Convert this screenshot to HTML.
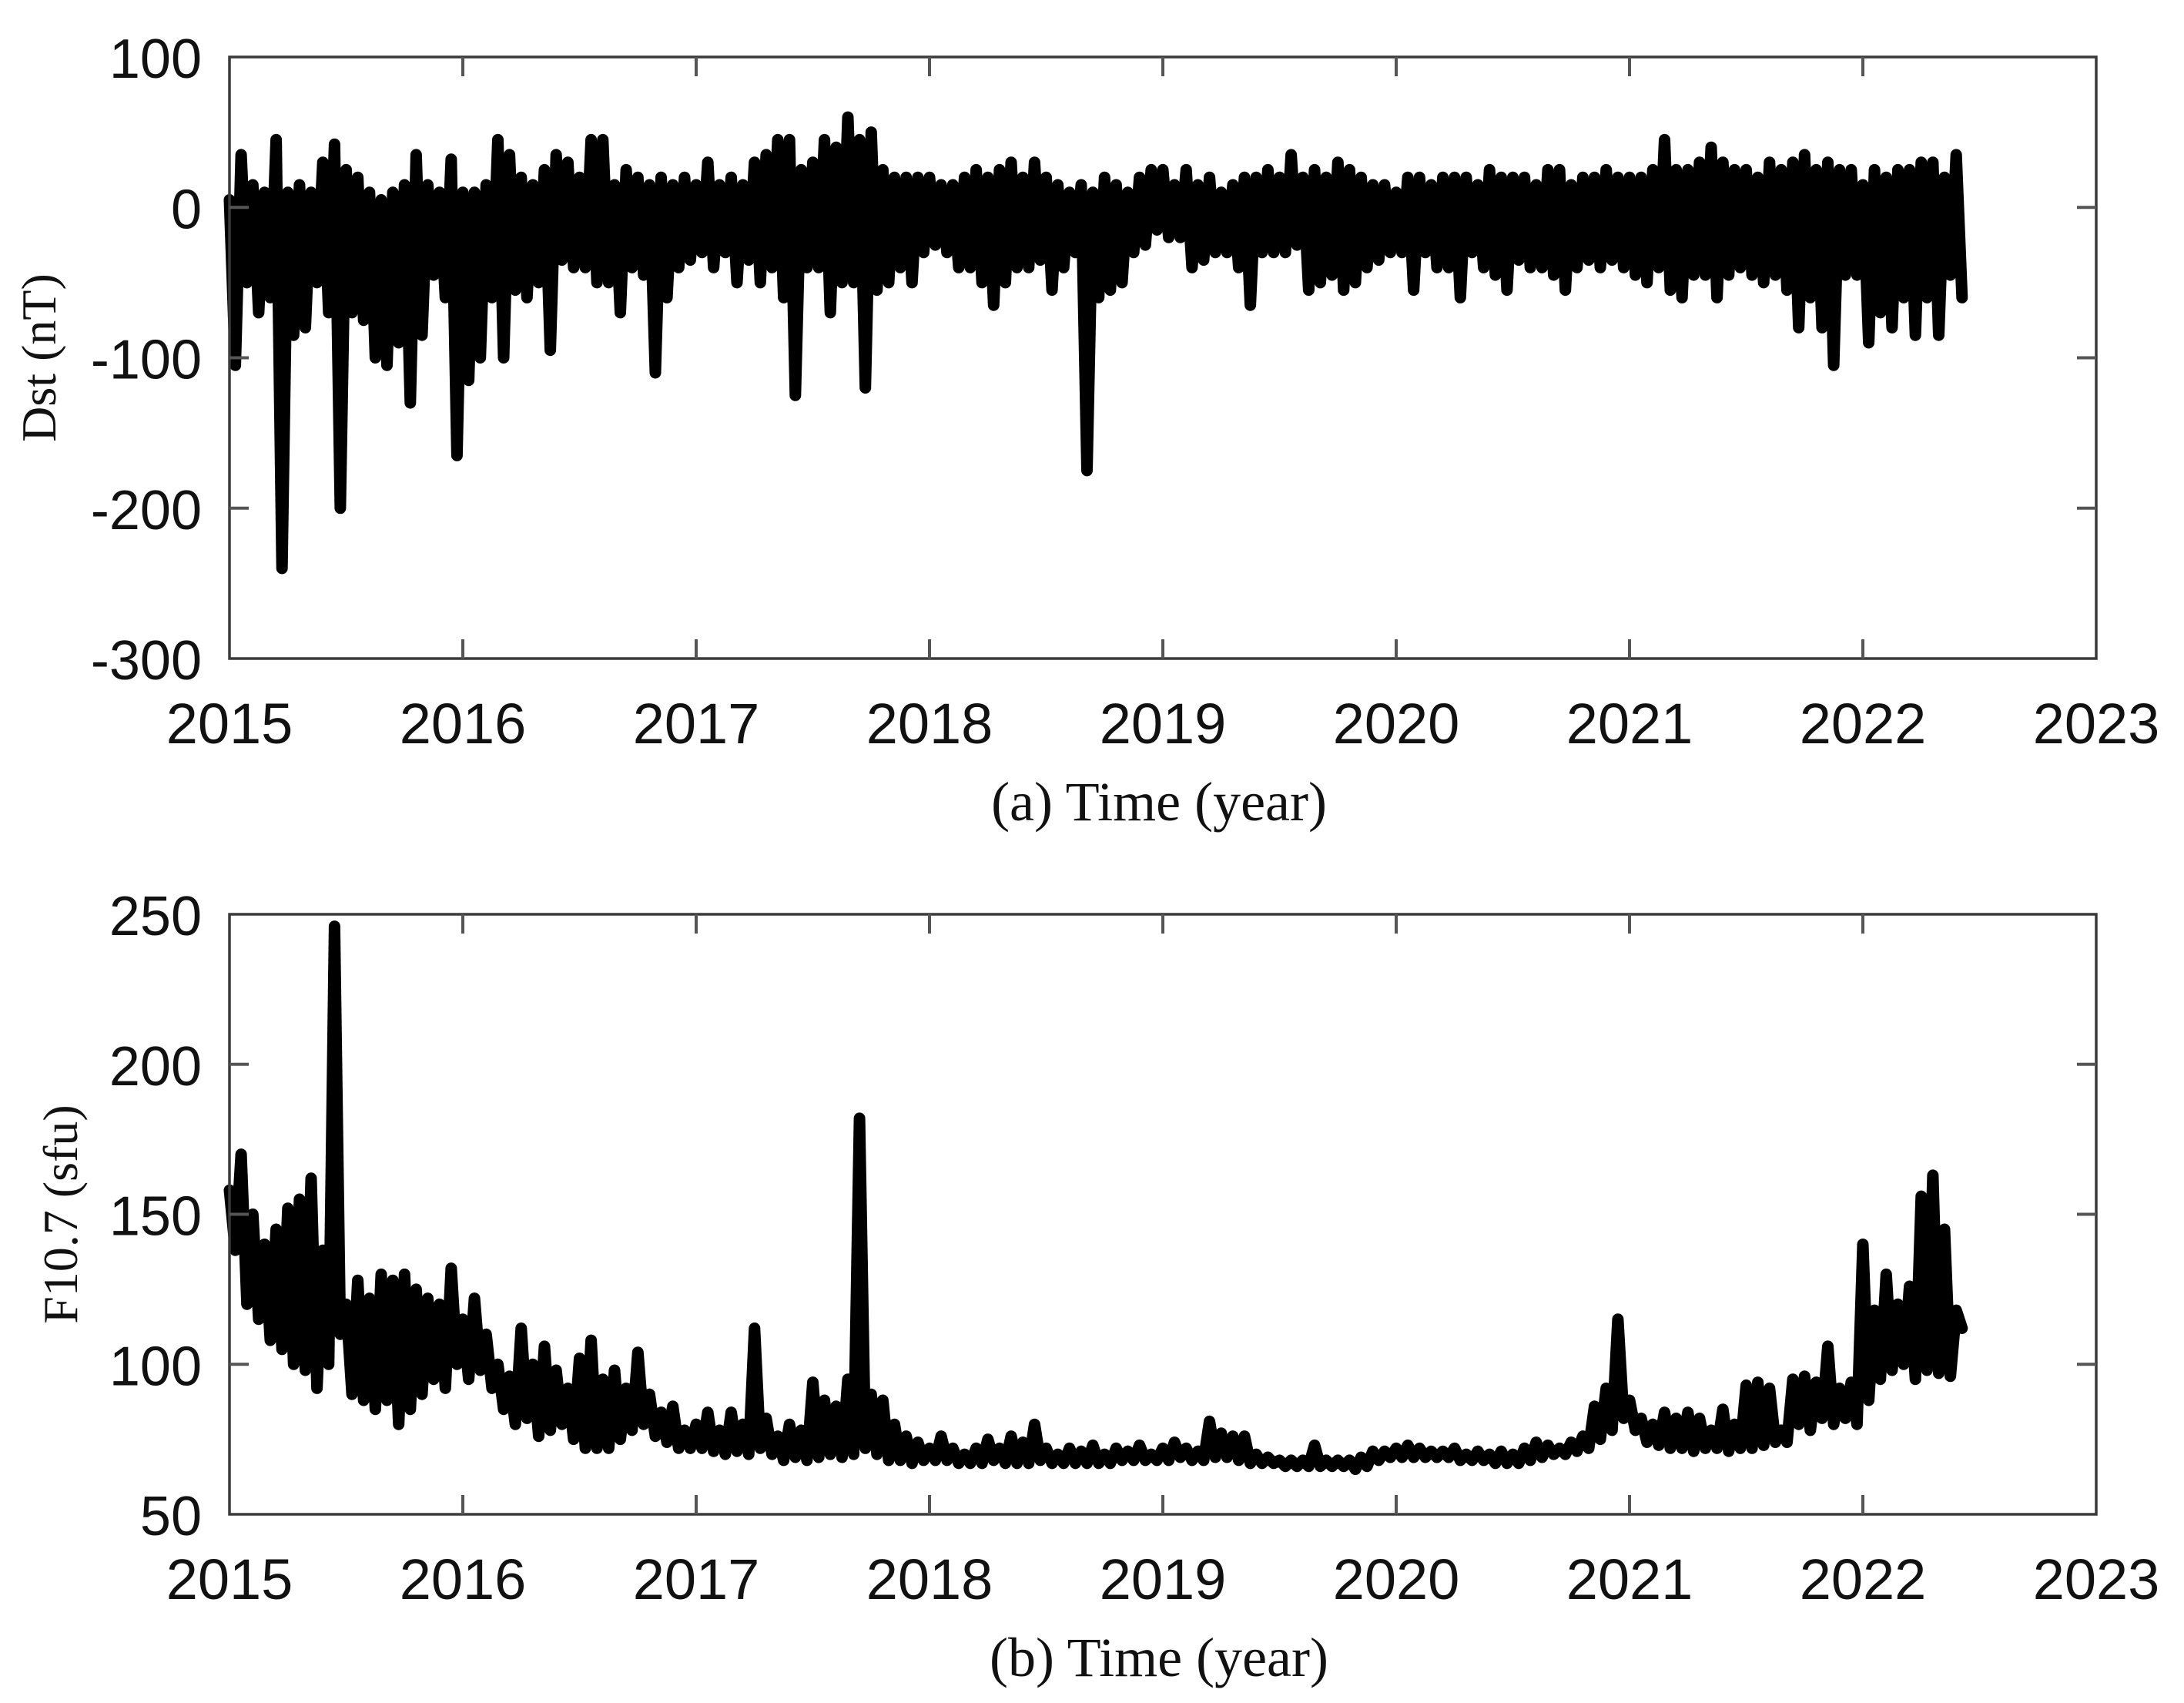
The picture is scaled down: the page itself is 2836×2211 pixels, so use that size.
<!DOCTYPE html>
<html><head><meta charset="utf-8">
<style>
html,body{margin:0;padding:0;background:#fff;}
svg{display:block;}
</style></head>
<body>
<svg id="fig" xmlns="http://www.w3.org/2000/svg" width="2836" height="2211" viewBox="0 0 2836 2211"></svg>
<script>
const yearTicks=[2015,2016,2017,2018,2019,2020,2021,2022,2023];
const dstTicks=[100,0,-100,-200,-300];
const f107Ticks=[250,200,150,100,50];
const t0=2015, step=0.05;
const dstHigh=[5,35,15,10,45,10,15,10,30,42,25,20,10,5,10,15,35,15,10,32,10,10,15,45,35,20,15,25,35,30,20,45,45,15,25,20,15,20,15,20,15,30,15,20,15,30,35,45,45,25,30,45,40,60,45,50,25,20,20,20,20,15,15,20,25,20,25,30,20,30,20,15,10,15,10,20,15,10,20,25,25,15,25,15,20,10,15,20,20,25,20,35,20,25,20,30,25,20,15,15,10,20,20,15,20,20,20,15,25,20,20,20,15,25,25,15,20,20,25,20,20,20,25,45,25,25,30,40,30,25,25,20,30,25,30,35,25,30,25,25,15,25,20,25,25,30,30,20,35];
const dstLow=[-105,-50,-70,-60,-240,-85,-80,-50,-70,-200,-70,-75,-100,-105,-90,-130,-85,-45,-60,-165,-115,-100,-60,-100,-55,-60,-50,-95,-35,-40,-40,-50,-50,-70,-40,-45,-110,-60,-40,-35,-30,-40,-30,-50,-35,-50,-40,-60,-125,-40,-40,-70,-50,-50,-120,-55,-50,-40,-50,-30,-25,-30,-40,-40,-50,-65,-50,-40,-40,-35,-55,-40,-30,-175,-60,-55,-50,-30,-25,-15,-20,-20,-40,-35,-30,-30,-40,-65,-30,-30,-30,-25,-55,-50,-45,-55,-50,-40,-35,-30,-30,-55,-30,-40,-40,-60,-30,-40,-45,-55,-35,-40,-40,-45,-55,-40,-35,-40,-35,-40,-45,-50,-40,-55,-60,-45,-45,-60,-45,-40,-45,-50,-45,-55,-80,-60,-80,-105,-45,-45,-90,-70,-80,-60,-85,-60,-85,-45,-60];
const f107High=[158,170,150,140,145,152,155,162,138,246,120,128,122,130,128,130,125,122,120,132,115,122,110,100,96,112,100,106,98,92,102,108,95,98,92,104,90,84,86,78,80,84,78,84,80,112,82,76,80,78,94,88,86,95,182,90,88,80,76,74,72,76,72,70,72,75,72,76,74,80,72,70,72,71,73,70,72,71,73,70,72,74,72,71,81,77,76,76,70,69,68,68,68,73,68,68,68,69,71,71,72,73,72,71,71,72,70,71,70,71,70,72,74,73,72,74,76,86,92,115,88,82,80,84,82,84,82,78,85,80,93,94,92,78,95,96,94,106,92,94,140,118,130,120,126,156,163,145,118];
const f107Low=[138,120,115,108,105,100,98,92,100,110,90,88,85,88,80,85,90,95,92,100,95,98,92,85,80,82,76,78,80,75,72,72,72,75,78,80,76,74,72,72,72,71,70,71,70,72,70,68,69,68,69,70,69,70,72,70,68,68,67,68,68,68,67,67,67,68,67,67,67,68,67,67,67,67,67,67,68,68,68,68,68,69,68,68,69,69,68,67,67,67,66,66,66,66,66,66,65,66,68,69,69,69,69,69,69,68,68,68,67,67,67,68,69,70,70,71,72,75,78,82,78,74,73,72,72,71,72,72,71,72,72,73,74,74,80,78,82,80,82,80,88,95,98,100,95,98,97,96,112];

const NS='http://www.w3.org/2000/svg';
const svg=document.getElementById('fig');
const L=298,R=2722;
const xs=v=>L+(v-2015)*(R-L)/8;
function mk(tag,attrs,parent){const e=document.createElementNS(NS,tag);for(const k in attrs)e.setAttribute(k,attrs[k]);(parent||svg).appendChild(e);return e;}

function panel(name,top,bot,ymax,ymin,yt,hi,lo,ytitle,xtitle,ytx){
  const g=mk('g',{});
  
  
  const ys=v=>top+(ymax-v)*(bot-top)/(ymax-ymin);
  let pts=[];
  for(let i=0;i<hi.length;i++){
    const t=t0+i*step;
    pts.push(xs(t).toFixed(1)+','+ys(hi[i]).toFixed(1));
    pts.push(xs(t+step/2).toFixed(1)+','+ys(lo[i]).toFixed(1));
  }
  const line=mk('polyline',{points:pts.join(' '),fill:'none',stroke:'#000','stroke-width':15,'stroke-linejoin':'round','stroke-linecap':'round'},g);
  
  
  const fr=mk('rect',{x:L,y:top,width:R-L,height:bot-top,fill:'none',stroke:'#3a3a3a','stroke-width':3.5},g);
  
  
  yearTicks.forEach(y=>{
    const x=xs(y);
    if(y>2015&&y<2023){
      mk('line',{x1:x,y1:bot,x2:x,y2:bot-25,stroke:'#555','stroke-width':4},g);
      mk('line',{x1:x,y1:top,x2:x,y2:top+25,stroke:'#555','stroke-width':4},g);
    }
    const tx=mk('text',{x:x,y:bot+110,'text-anchor':'middle','font-family':'Liberation Sans, sans-serif','font-size':74,fill:'#111'},g);
    tx.textContent=y;
    
    
  });
  yt.forEach(v=>{
    const y=ys(v);
    if(v<ymax&&v>ymin){
      mk('line',{x1:L,y1:y,x2:L+25,y2:y,stroke:'#555','stroke-width':4},g);
      mk('line',{x1:R,y1:y,x2:R-25,y2:y,stroke:'#555','stroke-width':4},g);
    }
    const tx=mk('text',{x:262,y:y+27,'text-anchor':'end','font-family':'Liberation Sans, sans-serif','font-size':72,fill:'#111'},g);
    tx.textContent=v;
    
    
  });
  const yc=(top+bot)/2;
  const yl=mk('text',{x:ytx,y:yc,'text-anchor':'middle','font-family':'Liberation Serif, serif','font-size':64,fill:'#111',transform:'rotate(-90 '+ytx+' '+yc+')'},g);
  yl.textContent=ytitle;
  
  
  const xl=mk('text',{x:1505,y:bot+210,'text-anchor':'middle','font-family':'Liberation Serif, serif','font-size':72,fill:'#111'},g);
  xl.textContent=xtitle;
  
  
}
panel('dst-panel',74,855,100,-300,dstTicks,dstHigh,dstLow,'Dst (nT)','(a) Time (year)',72);
panel('f107-panel',1187,1966,250,50,f107Ticks,f107High,f107Low,'F10.7 (sfu)','(b) Time (year)',100);
</script>
</body></html>
